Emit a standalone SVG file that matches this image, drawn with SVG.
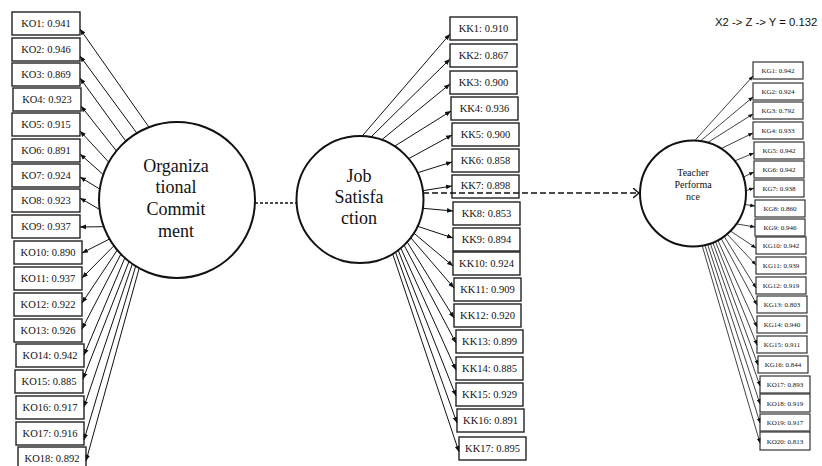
<svg xmlns="http://www.w3.org/2000/svg" width="822" height="466" viewBox="0 0 822 466">
<style>
.box{fill:#fff;stroke:#222;stroke-width:1.4}
.bs{fill:#fff;stroke:#333;stroke-width:1.2}
.t{font-family:"Liberation Serif","Times New Roman",serif;font-size:10.5px;fill:#111;text-anchor:middle}
.ts{font-family:"Liberation Serif","Times New Roman",serif;font-size:7px;fill:#111;text-anchor:middle}
.lat{fill:#fff;stroke:#111;stroke-width:2}
.lt{font-family:"Liberation Serif","Times New Roman",serif;font-size:18px;fill:#111;text-anchor:middle}
.lts{font-family:"Liberation Serif","Times New Roman",serif;font-size:10px;fill:#111;text-anchor:middle}
.c line{stroke:#111;stroke-width:1;marker-end:url(#ah)}
.c .r line{stroke-width:0.8}
.hd{font-family:"Liberation Sans",Arial,sans-serif;font-size:11.3px;fill:#111}
</style>
<defs>
<marker id="ah" viewBox="0 0 6 6" refX="6" refY="3" markerWidth="6" markerHeight="6" orient="auto"><path d="M0,0.6 L6,3 L0,5.4 z" fill="#111"/></marker>
<marker id="open" viewBox="0 0 7 11" refX="6.5" refY="5.5" markerWidth="7" markerHeight="11" orient="auto" markerUnits="userSpaceOnUse"><path d="M0.5,0.5 L6.5,5.5 L0.5,10.5" fill="none" stroke="#111" stroke-width="1.4"/></marker>
</defs>
<rect width="822" height="466" fill="#fff"/>
<text class="hd" x="715" y="26">X2 -&gt; Z -&gt; Y = 0.132</text>

<g id="oc"><circle class="lat" cx="177" cy="200" r="78"/>
<text class="lt" x="176" y="172">Organiza</text><text class="lt" x="176" y="193">tional</text><text class="lt" x="176" y="215">Commit</text><text class="lt" x="176" y="237">ment</text></g>
<g id="js"><circle class="lat" cx="360" cy="199.5" r="63.5"/>
<text class="lt" x="359" y="182">Job</text><text class="lt" x="359" y="203">Satisfa</text><text class="lt" x="359" y="224">ction</text></g>
<g id="tp"><circle class="lat" cx="693" cy="193.5" r="53"/>
<text class="lts" x="693" y="176">Teacher</text><text class="lts" x="693" y="188">Performa</text><text class="lts" x="693" y="200">nce</text></g>

<g id="ko1"><rect class="box" x="12" y="12" width="68" height="23"/><text class="t" x="46" y="27">KO1: 0.941</text></g>
<g id="ko2"><rect class="box" x="12" y="38" width="68" height="23"/><text class="t" x="46" y="53">KO2: 0.946</text></g>
<g id="ko3"><rect class="box" x="12" y="63" width="68" height="23"/><text class="t" x="46" y="78">KO3: 0.869</text></g>
<g id="ko4"><rect class="box" x="13" y="88" width="68" height="23"/><text class="t" x="47" y="103">KO4: 0.923</text></g>
<g id="ko5"><rect class="box" x="12" y="113" width="68" height="23"/><text class="t" x="46" y="128">KO5: 0.915</text></g>
<g id="ko6"><rect class="box" x="12" y="139" width="68" height="23"/><text class="t" x="46" y="154">KO6: 0.891</text></g>
<g id="ko7"><rect class="box" x="12" y="164" width="68" height="23"/><text class="t" x="46" y="179">KO7: 0.924</text></g>
<g id="ko8"><rect class="box" x="12" y="189" width="68" height="23"/><text class="t" x="46" y="204">KO8: 0.923</text></g>
<g id="ko9"><rect class="box" x="12" y="215" width="68" height="23"/><text class="t" x="46" y="230">KO9: 0.937</text></g>
<g id="ko10"><rect class="box" x="14" y="241" width="68" height="23"/><text class="t" x="48" y="256">KO10: 0.890</text></g>
<g id="ko11"><rect class="box" x="14" y="267" width="68" height="23"/><text class="t" x="48" y="282">KO11: 0.937</text></g>
<g id="ko12"><rect class="box" x="14" y="293" width="68" height="23"/><text class="t" x="48" y="308">KO12: 0.922</text></g>
<g id="ko13"><rect class="box" x="14" y="319" width="68" height="23"/><text class="t" x="48" y="334">KO13: 0.926</text></g>
<g id="ko14"><rect class="box" x="16" y="344" width="68" height="23"/><text class="t" x="50" y="359">KO14: 0.942</text></g>
<g id="ko15"><rect class="box" x="15" y="370" width="68" height="23"/><text class="t" x="49" y="385">KO15: 0.885</text></g>
<g id="ko16"><rect class="box" x="16" y="396" width="68" height="23"/><text class="t" x="50" y="411">KO16: 0.917</text></g>
<g id="ko17"><rect class="box" x="16" y="422" width="68" height="23"/><text class="t" x="50" y="437">KO17: 0.916</text></g>
<g id="ko18"><rect class="box" x="18" y="447" width="68" height="23"/><text class="t" x="52" y="462">KO18: 0.892</text></g>

<g id="kk1"><rect class="box" x="450" y="17" width="67" height="23"/><text class="t" x="483.5" y="32">KK1: 0.910</text></g>
<g id="kk2"><rect class="box" x="450" y="44" width="67" height="23"/><text class="t" x="483.5" y="59">KK2: 0.867</text></g>
<g id="kk3"><rect class="box" x="450" y="71" width="67" height="23"/><text class="t" x="483.5" y="86">KK3: 0.900</text></g>
<g id="kk4"><rect class="box" x="451" y="97" width="67" height="23"/><text class="t" x="484.5" y="112">KK4: 0.936</text></g>
<g id="kk5"><rect class="box" x="452" y="123" width="67" height="23"/><text class="t" x="485.5" y="138">KK5: 0.900</text></g>
<g id="kk6"><rect class="box" x="452" y="149" width="67" height="23"/><text class="t" x="485.5" y="164">KK6: 0.858</text></g>
<g id="kk7"><rect class="box" x="452" y="175" width="67" height="23"/><text class="t" x="485.5" y="189">KK7: 0.898</text></g>
<g id="kk8"><rect class="box" x="453" y="202" width="67" height="23"/><text class="t" x="486.5" y="217">KK8: 0.853</text></g>
<g id="kk9"><rect class="box" x="453" y="228" width="67" height="23"/><text class="t" x="486.5" y="243">KK9: 0.894</text></g>
<g id="kk10"><rect class="box" x="453" y="252" width="67" height="23"/><text class="t" x="486.5" y="267">KK10: 0.924</text></g>
<g id="kk11"><rect class="box" x="454" y="278" width="67" height="23"/><text class="t" x="487.5" y="293">KK11: 0.909</text></g>
<g id="kk12"><rect class="box" x="454" y="304" width="67" height="23"/><text class="t" x="487.5" y="319">KK12: 0.920</text></g>
<g id="kk13"><rect class="box" x="456" y="330" width="67" height="23"/><text class="t" x="489.5" y="345">KK13: 0.899</text></g>
<g id="kk14"><rect class="box" x="456" y="357" width="67" height="23"/><text class="t" x="489.5" y="372">KK14: 0.885</text></g>
<g id="kk15"><rect class="box" x="456" y="383" width="67" height="23"/><text class="t" x="489.5" y="398">KK15: 0.929</text></g>
<g id="kk16"><rect class="box" x="457" y="409" width="67" height="23"/><text class="t" x="490.5" y="424">KK16: 0.891</text></g>
<g id="kk17"><rect class="box" x="459" y="437" width="67" height="23"/><text class="t" x="492.5" y="452">KK17: 0.895</text></g>

<g id="kg1"><rect class="bs" x="753" y="62" width="50" height="17"/><text class="ts" x="778" y="73">KG1: 0.942</text></g>
<g id="kg2"><rect class="bs" x="753" y="83" width="50" height="17"/><text class="ts" x="778" y="94">KG2: 0.924</text></g>
<g id="kg3"><rect class="bs" x="753" y="102" width="50" height="17"/><text class="ts" x="778" y="113">KG3: 0.792</text></g>
<g id="kg4"><rect class="bs" x="753" y="122" width="50" height="17"/><text class="ts" x="778" y="133">KG4: 0.933</text></g>
<g id="kg5"><rect class="bs" x="754" y="142" width="50" height="17"/><text class="ts" x="779" y="153">KG5: 0.942</text></g>
<g id="kg6"><rect class="bs" x="754" y="161" width="50" height="17"/><text class="ts" x="779" y="172">KG6: 0.942</text></g>
<g id="kg7"><rect class="bs" x="754" y="180" width="50" height="17"/><text class="ts" x="779" y="191">KG7: 0.938</text></g>
<g id="kg8"><rect class="bs" x="755" y="200" width="50" height="17"/><text class="ts" x="780" y="211">KG8: 0.860</text></g>
<g id="kg9"><rect class="bs" x="755" y="219" width="50" height="17"/><text class="ts" x="780" y="230">KG9: 0.946</text></g>
<g id="kg10"><rect class="bs" x="756" y="237" width="50" height="17"/><text class="ts" x="781" y="248">KG10: 0.942</text></g>
<g id="kg11"><rect class="bs" x="756" y="257" width="50" height="17"/><text class="ts" x="781" y="268">KG11: 0.939</text></g>
<g id="kg12"><rect class="bs" x="756" y="277" width="50" height="17"/><text class="ts" x="781" y="288">KG12: 0.919</text></g>
<g id="kg13"><rect class="bs" x="757" y="296" width="50" height="17"/><text class="ts" x="782" y="307">KG13: 0.803</text></g>
<g id="kg14"><rect class="bs" x="757" y="316" width="50" height="17"/><text class="ts" x="782" y="327">KG14: 0.940</text></g>
<g id="kg15"><rect class="bs" x="757" y="336" width="50" height="17"/><text class="ts" x="782" y="347">KG15: 0.911</text></g>
<g id="kg16"><rect class="bs" x="758" y="356" width="50" height="17"/><text class="ts" x="783" y="367">KG16: 0.844</text></g>
<g id="kg17"><rect class="bs" x="760" y="376" width="50" height="17"/><text class="ts" x="785" y="387">KO17: 0.893</text></g>
<g id="kg18"><rect class="bs" x="760" y="394" width="50" height="18"/><text class="ts" x="785" y="406">KO18: 0.919</text></g>
<g id="kg19"><rect class="bs" x="760" y="414" width="50" height="17"/><text class="ts" x="785" y="425">KO19: 0.917</text></g>
<g id="kg20"><rect class="bs" x="760" y="432" width="50" height="18"/><text class="ts" x="785" y="444">KO20: 0.813</text></g>

<g id="connectors" class="c">
<g id="oc-links">
<line x1="149.0" y1="127.2" x2="80" y2="29"/>
<line x1="136.8" y1="133.1" x2="80" y2="56"/>
<line x1="125.8" y1="141.1" x2="80" y2="78"/>
<line x1="116.4" y1="150.9" x2="81" y2="106"/>
<line x1="108.8" y1="162.2" x2="80" y2="131"/>
<line x1="103.3" y1="174.6" x2="80" y2="154"/>
<line x1="99.8" y1="189.1" x2="80" y2="177"/>
<line x1="99.6" y1="209.5" x2="80" y2="198"/>
<line x1="103.7" y1="226.7" x2="80" y2="227"/>
<line x1="109.5" y1="239" x2="82" y2="253"/>
<line x1="113.9" y1="245.8" x2="82" y2="278"/>
<line x1="117.3" y1="250.1" x2="82" y2="303"/>
<line x1="120.9" y1="254.2" x2="82" y2="329"/>
<line x1="124.8" y1="258.0" x2="84" y2="355"/>
<line x1="129.0" y1="261.5" x2="83" y2="379"/>
<line x1="132.3" y1="263.9" x2="84" y2="407"/>
<line x1="135.7" y1="266.1" x2="84" y2="440"/>
<line x1="139.2" y1="268.2" x2="86" y2="461"/>
</g>
<g id="js-links">
<line x1="362.2" y1="136.0" x2="450" y2="34"/>
<line x1="371.0" y1="137.0" x2="450" y2="59"/>
<line x1="381.7" y1="139.8" x2="450" y2="84"/>
<line x1="394.6" y1="146.2" x2="451" y2="111"/>
<line x1="408.6" y1="158.7" x2="452" y2="135"/>
<line x1="417.6" y1="172.7" x2="452" y2="162"/>
<line x1="422.9" y1="190.7" x2="452" y2="186"/>
<line x1="422.9" y1="208.3" x2="453" y2="211"/>
<line x1="417.6" y1="226.3" x2="453" y2="238"/>
<line x1="413.8" y1="233.1" x2="453" y2="266"/>
<line x1="410.7" y1="237.7" x2="454" y2="288"/>
<line x1="407.2" y1="242.0" x2="454" y2="318"/>
<line x1="404.1" y1="245.2" x2="456" y2="343"/>
<line x1="400.8" y1="248.1" x2="456" y2="370"/>
<line x1="398.2" y1="250.2" x2="456" y2="396"/>
<line x1="395.5" y1="252.1" x2="457" y2="423"/>
<line x1="392.7" y1="253.9" x2="459" y2="452"/>
</g>
<g id="tp-links" class="r">
<line x1="694.8" y1="140.5" x2="753" y2="76"/>
<line x1="700.4" y1="141.0" x2="753" y2="97"/>
<line x1="707.6" y1="142.6" x2="753" y2="114"/>
<line x1="721.1" y1="148.6" x2="753" y2="133"/>
<line x1="734.8" y1="160.9" x2="754" y2="153"/>
<line x1="743.4" y1="177.1" x2="754" y2="172"/>
<line x1="745.9" y1="190.7" x2="754" y2="188"/>
<line x1="744.8" y1="204.5" x2="755" y2="206"/>
<line x1="736.4" y1="223.9" x2="755" y2="227"/>
<line x1="730.5" y1="231.0" x2="756" y2="248"/>
<line x1="727.1" y1="234.1" x2="756" y2="265"/>
<line x1="724.2" y1="236.4" x2="756" y2="288"/>
<line x1="721.1" y1="238.4" x2="757" y2="305"/>
<line x1="717.9" y1="240.3" x2="757" y2="327"/>
<line x1="715.4" y1="241.5" x2="757" y2="345"/>
<line x1="712.9" y1="242.6" x2="758" y2="365"/>
<line x1="710.3" y1="243.6" x2="760" y2="386"/>
<line x1="707.6" y1="244.4" x2="760" y2="404"/>
<line x1="704.9" y1="245.1" x2="760" y2="423"/>
<line x1="702.2" y1="245.7" x2="760" y2="443"/>
</g>
<path id="oc-js" d="M255,203 L297,203" fill="none" stroke="#111" stroke-width="1.5" stroke-dasharray="3,2"/>
<path id="js-tp" d="M423,193 L639,193" fill="none" stroke="#111" stroke-width="1.5" stroke-dasharray="6,3" marker-end="url(#open)"/>
</g>
</svg>
